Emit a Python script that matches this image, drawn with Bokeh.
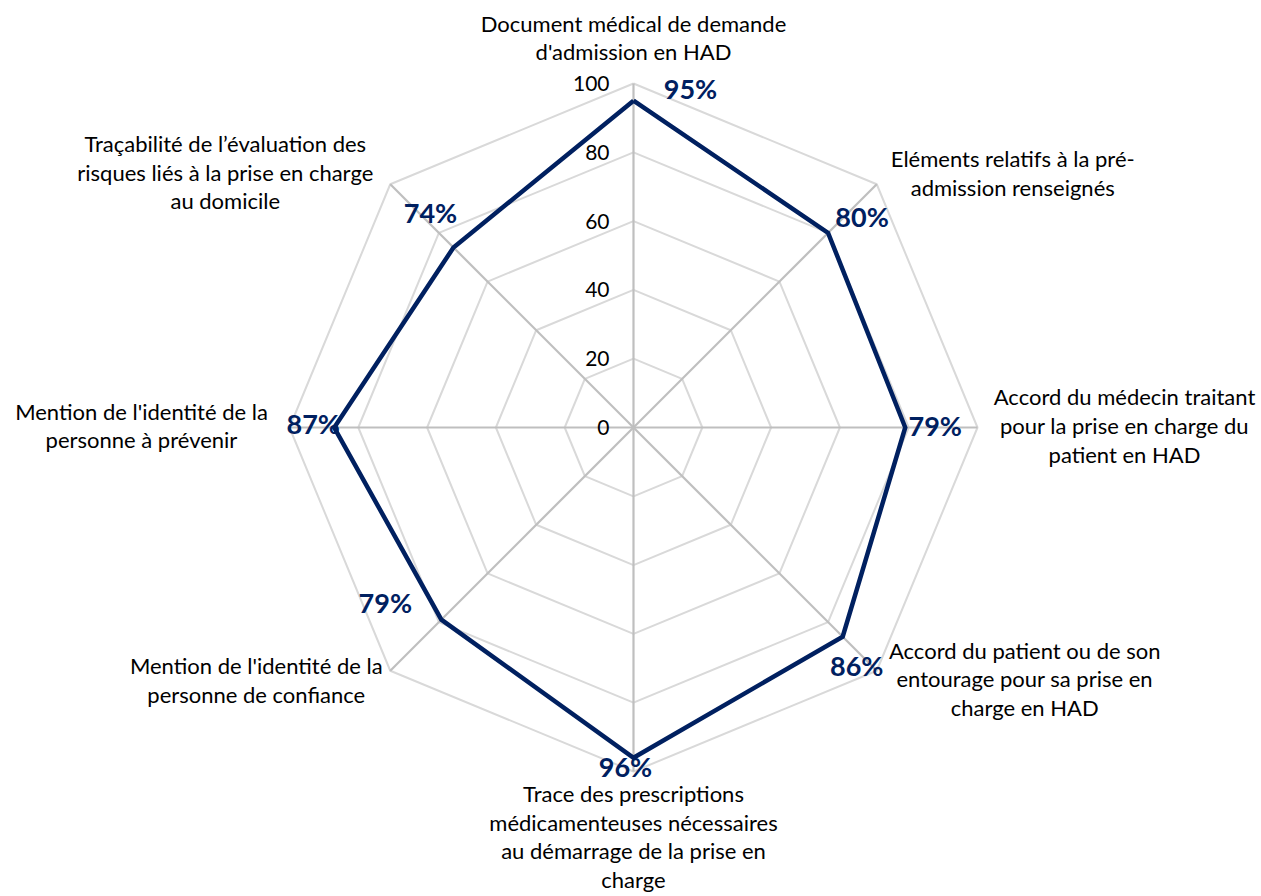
import math
from bokeh.plotting import figure
from bokeh.models import Range1d
from bokeh.core.properties import value
from bokeh.embed import file_html
from bokeh.resources import INLINE

# ---- data ----
categories = [
    "Document médical de demande\nd'admission en HAD",
    "Eléments relatifs à la pré-\nadmission renseignés",
    "Accord du médecin traitant\npour la prise en charge du\npatient en HAD",
    "Accord du patient ou de son\nentourage pour sa prise en\ncharge en HAD",
    "Trace des prescriptions\nmédicamenteuses nécessaires\nau démarrage de la prise en\ncharge",
    "Mention de l'identité de la\npersonne de confiance",
    "Mention de l'identité de la\npersonne à prévenir",
    "Traçabilité de l’évaluation des\nrisques liés à la prise en charge\nau domicile",
]
values = [95, 80, 79, 86, 96, 79, 87, 74]
ticks = [0, 20, 40, 60, 80, 100]
tick_labels = ["0", "20", "40", "60", "80", "100"]

# ---- layout / style ----
W, H = 1261, 896
PX = 3.44            # pixels per value unit
CX, CY = 633, 427    # centre in frame pixels (from top-left)
FONT = "Lato"
NAVY = "#002060"

# pixel offsets (screen, y down) of category label block centres from the outer vertex
cat_off = [(0, -46), (136, -11), (147, -2), (148, 8), (0, 65), (-134, 9), (-148, -2), (-165, -12)]
# pixel offsets of value labels from the data vertex
val_off = [(57, -12), (34, -16), (30, -2), (14, 29), (-8, 9), (-56, -17), (-21, -4), (-23, -35)]

p = figure(width=W, height=H, output_backend="svg", toolbar_location=None,
           x_range=Range1d(-CX / PX, (W - CX) / PX),
           y_range=Range1d(-(H - CY) / PX, CY / PX),
           min_border=0, outline_line_color=None)
p.axis.visible = False
p.grid.visible = False
p.background_fill_color = "white"
p.border_fill_color = "white"

n = len(values)
ang = [2 * math.pi * i / n for i in range(n)]

def pt(r, a):
    return r * math.sin(a), r * math.cos(a)

# rings
for t in ticks[1:]:
    xs = [pt(t, a)[0] for a in ang] + [pt(t, ang[0])[0]]
    ys = [pt(t, a)[1] for a in ang] + [pt(t, ang[0])[1]]
    p.line(xs, ys, line_color="#d9d9d9", line_width=2)

# spokes
p.segment(x0=[0] * n, y0=[0] * n,
          x1=[pt(ticks[-1], a)[0] for a in ang], y1=[pt(ticks[-1], a)[1] for a in ang],
          line_color="#bfbfbf", line_width=2.2)

# series
sx = [pt(v, a)[0] for v, a in zip(values, ang)]
sy = [pt(v, a)[1] for v, a in zip(values, ang)]
p.line(sx + [sx[0]], sy + [sy[0]], line_color=NAVY, line_width=4.5, line_join="miter")

# tick labels
p.text(x=[-24 / PX] * len(ticks), y=ticks, text=tick_labels,
       text_font=value(FONT), text_font_size="21px", text_color="#000000",
       text_align="right", text_baseline="middle")

# value labels
vx = [x + dx / PX for x, (dx, dy) in zip(sx, val_off)]
vy = [y - dy / PX for y, (dx, dy) in zip(sy, val_off)]
p.text(x=vx, y=vy, text=[f"{v}%" for v in values],
       text_font=value(FONT), text_font_size="27px", text_font_style="bold",
       text_color=NAVY, text_align="center", text_baseline="middle")

# category labels
ox = [pt(ticks[-1], a)[0] for a in ang]
oy = [pt(ticks[-1], a)[1] for a in ang]
cx = [x + dx / PX for x, (dx, dy) in zip(ox, cat_off)]
cy = [y - dy / PX for y, (dx, dy) in zip(oy, cat_off)]
p.text(x=cx, y=cy, text=categories,
       text_font=value(FONT), text_font_size="22px", text_color="#000000",
       text_align="center", text_baseline="middle", text_line_height=1.06)

open("out.html", "w").write(file_html(p, INLINE))
